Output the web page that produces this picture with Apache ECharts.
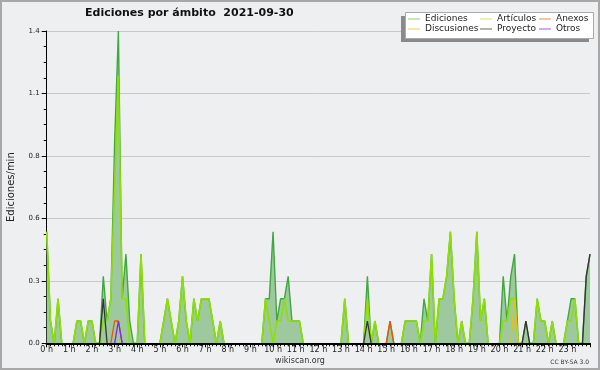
<!DOCTYPE html>
<html>
<head>
<meta charset="utf-8">
<script src="https://cdn.jsdelivr.net/npm/echarts@6/dist/echarts.min.js"></script>
<style>
html,body{margin:0;padding:0;background:#eeeff0;}
#chart{width:600px;height:370px;}
</style>
</head>
<body>
<div id="chart"></div>
<script>
// 10-minute bins, 00:00 .. 24:00 (145 points), edits per minute
const ediciones = [
  0.5,0.1,0,0.2,0,0,  0,0,0.1,0.1,0,0.1,
  0.1,0,0,0.3,0.1,0.2,  0.9,1.4,0.2,0.4,0.1,0,
  0,0.4,0,0,0,0,  0,0.1,0.2,0.1,0,0.1,
  0.3,0.1,0,0.2,0.1,0.2,  0.2,0.2,0.1,0,0.1,0,
  0,0,0,0,0,0,  0,0,0,0,0.2,0.2,
  0.5,0.1,0.2,0.2,0.3,0.1,  0.1,0.1,0,0,0,0,
  0,0,0,0,0,0,  0,0.2,0,0,0,0,
  0,0.3,0,0.1,0,0,  0,0.1,0,0,0,0.1,
  0.1,0.1,0.1,0,0.2,0.1,  0.4,0,0.2,0.2,0.3,0.5,
  0.2,0,0.1,0,0,0.2,  0.5,0.1,0.2,0,0,0,
  0,0.3,0.1,0.3,0.4,0,  0,0.1,0,0,0.2,0.1,
  0.1,0,0.1,0,0,0,  0.1,0.2,0.2,0,0,0.3,
  0.4
];
const articulos = [
  0.5,0.1,0,0.2,0,0,  0,0,0.1,0.1,0,0.1,
  0.1,0,0,0.1,0.1,0.2,  0.7,1.2,0.2,0.2,0,0,
  0,0.4,0,0,0,0,  0,0.1,0.2,0.1,0,0.1,
  0.3,0.1,0,0.2,0.1,0.2,  0.2,0.2,0.1,0,0.1,0,
  0,0,0,0,0,0,  0,0,0,0,0.2,0.1,
  0,0.1,0.1,0.2,0.1,0.1,  0.1,0.1,0,0,0,0,
  0,0,0,0,0,0,  0,0.2,0,0,0,0,
  0,0.2,0,0.1,0,0,  0,0,0,0,0,0.1,
  0.1,0.1,0.1,0,0.1,0.1,  0.4,0,0.2,0.2,0.3,0.5,
  0.2,0,0.1,0,0,0.2,  0.5,0.1,0.2,0,0,0,
  0,0.1,0.1,0.2,0.2,0,  0,0,0,0,0.2,0.1,
  0.1,0,0.1,0,0,0,  0.1,0.1,0.2,0,0,0,
  0
];
// sparse series: bin index -> value
const anexosBins = [18, 19, 91];
const anexosVals = [0.1, 0.1, 0.1];
const discusionesBins = [124];
const discusionesVals = [0.2];
const proyectoBins = [15, 85, 127, 143, 144];
const proyectoVals = [0.2, 0.1, 0.1, 0.3, 0.4];
const otrosBins = [19];
const otrosVals = [0.1];

const binsPerHour = 6;
const yTickLabels = ['0.0','0.3','0.6','0.8','1.1','1.4'];

// zero runs are left undrawn (they lie on the axis line anyway)
function toPoints(arr){
  return arr.map((v,i)=>{
    const prev = i>0 ? arr[i-1] : 0, next = i<arr.length-1 ? arr[i+1] : 0;
    const y = (v===0 && prev===0 && next===0) ? null : v;
    return [i/binsPerHour, y];
  });
}
function sparse(bins, vals){
  const a = ediciones.map(()=>0);
  bins.forEach((b,k)=>{ a[b] = vals[k]; });
  return toPoints(a);
}

const FONT = 'DejaVu Sans';
const chart = echarts.init(document.getElementById('chart'), null, {renderer:'canvas'});

function lineSeries(name, data, color, width, z, extra){
  return Object.assign({
    name, type:'line', data, showSymbol:false, symbol:'none', connectNulls:false,
    lineStyle:{color, width}, itemStyle:{color}, z, animation:false
  }, extra||{});
}

const legendBase = {
  orient:'vertical', padding:0, itemGap:0, itemWidth:12, itemHeight:1, icon:'rect',
  selectedMode:false, zlevel:2,
  textStyle:{fontFamily:FONT, fontSize:9, color:'#222', lineHeight:10}
};

chart.setOption({
  backgroundColor:'#eeeff0',
  animation:false,
  title:{
    text:'Ediciones por ámbito  2021-09-30',
    left:85, top:8, padding:0,
    textStyle:{fontFamily:FONT, fontSize:11, fontWeight:'bold', color:'#111'}
  },
  graphic:[
    {type:'rect', zlevel:2, shape:{x:1,y:1,width:598,height:368}, style:{fill:'none', stroke:'#a8a8a8', lineWidth:2}, z:100},
    {type:'rect', zlevel:2, shape:{x:401,y:16,width:188,height:26}, style:{fill:'#8a8a8a'}, z:0},
    {type:'rect', zlevel:2, shape:{x:405.5,y:12.5,width:188,height:26}, style:{fill:'#ffffff', stroke:'#aaaaaa', lineWidth:1}, z:1},
    {type:'text', left:'center', top:357, style:{text:'wikiscan.org', font:'8px "DejaVu Sans"', fill:'#333'}, z:60},
    {type:'text', right:11, top:359, style:{text:'CC BY-SA 3.0', font:'6px "DejaVu Sans"', fill:'#333'}, z:60}
  ],
  legend:[
    Object.assign({}, legendBase, {left:408, top:14, z:5, data:[
      {name:'Ediciones', itemStyle:{color:'#88cc88'}},
      {name:'Discusiones', itemStyle:{color:'#f0d050'}}
    ]}),
    Object.assign({}, legendBase, {left:480, top:14, z:5, data:[
      {name:'Artículos', itemStyle:{color:'#cce866'}},
      {name:'Proyecto', itemStyle:{color:'#666666'}}
    ]}),
    Object.assign({}, legendBase, {left:539, top:14, z:5, data:[
      {name:'Anexos', itemStyle:{color:'#ee8855'}},
      {name:'Otros', itemStyle:{color:'#9955ee'}}
    ]})
  ],
  grid:{left:46.7, right:10, top:31, bottom:26.7, containLabel:false, outerBoundsMode:'none'},
  xAxis:{
    type:'value', min:0, max:24, interval:1, zlevel:1, z:10,
    axisLine:{show:true, lineStyle:{color:'#000', width:2}},
    axisTick:{show:true, length:4, lineStyle:{color:'#000'}},
    minorTick:{show:true, splitNumber:6, length:3, lineStyle:{color:'#000'}},
    splitLine:{show:false},
    axisLabel:{margin:3, fontFamily:FONT, fontSize:8, color:'#222', showMaxLabel:false,
      formatter:v=>v+' h'}
  },
  yAxis:{
    type:'value', min:0, max:1.4, interval:0.28,
    name:'Ediciones/min', nameLocation:'middle', nameGap:30,
    nameTextStyle:{fontFamily:FONT, fontSize:10, color:'#222'},
    axisLine:{show:true, lineStyle:{color:'#000', width:1}},
    axisTick:{show:true, length:5, lineStyle:{color:'#000'}},
    minorTick:{show:true, splitNumber:4, length:3, lineStyle:{color:'#000'}},
    splitLine:{show:true, lineStyle:{color:'#c8c8c8', width:1}},
    axisLabel:{margin:7, fontFamily:FONT, fontSize:7, color:'#222',
      formatter:(v)=>yTickLabels[Math.round(v/0.28)] || v.toFixed(1)}
  },
  series:[
    lineSeries('Ediciones', toPoints(ediciones), '#3fa83f', 1.4, 2,
      {areaStyle:{color:'#9ec89e', opacity:1}}),
    lineSeries('Artículos', toPoints(articulos), '#8ee000', 1.6, 3),
    lineSeries('Discusiones', sparse(discusionesBins, discusionesVals), '#f0c000', 1.3, 4),
    lineSeries('Anexos', sparse(anexosBins, anexosVals), '#ee5500', 1.3, 4),
    lineSeries('Proyecto', sparse(proyectoBins, proyectoVals), '#333333', 1.3, 5),
    lineSeries('Otros', sparse(otrosBins, otrosVals), '#8822ee', 1.3, 6)
  ]
});
</script>
</body>
</html>
